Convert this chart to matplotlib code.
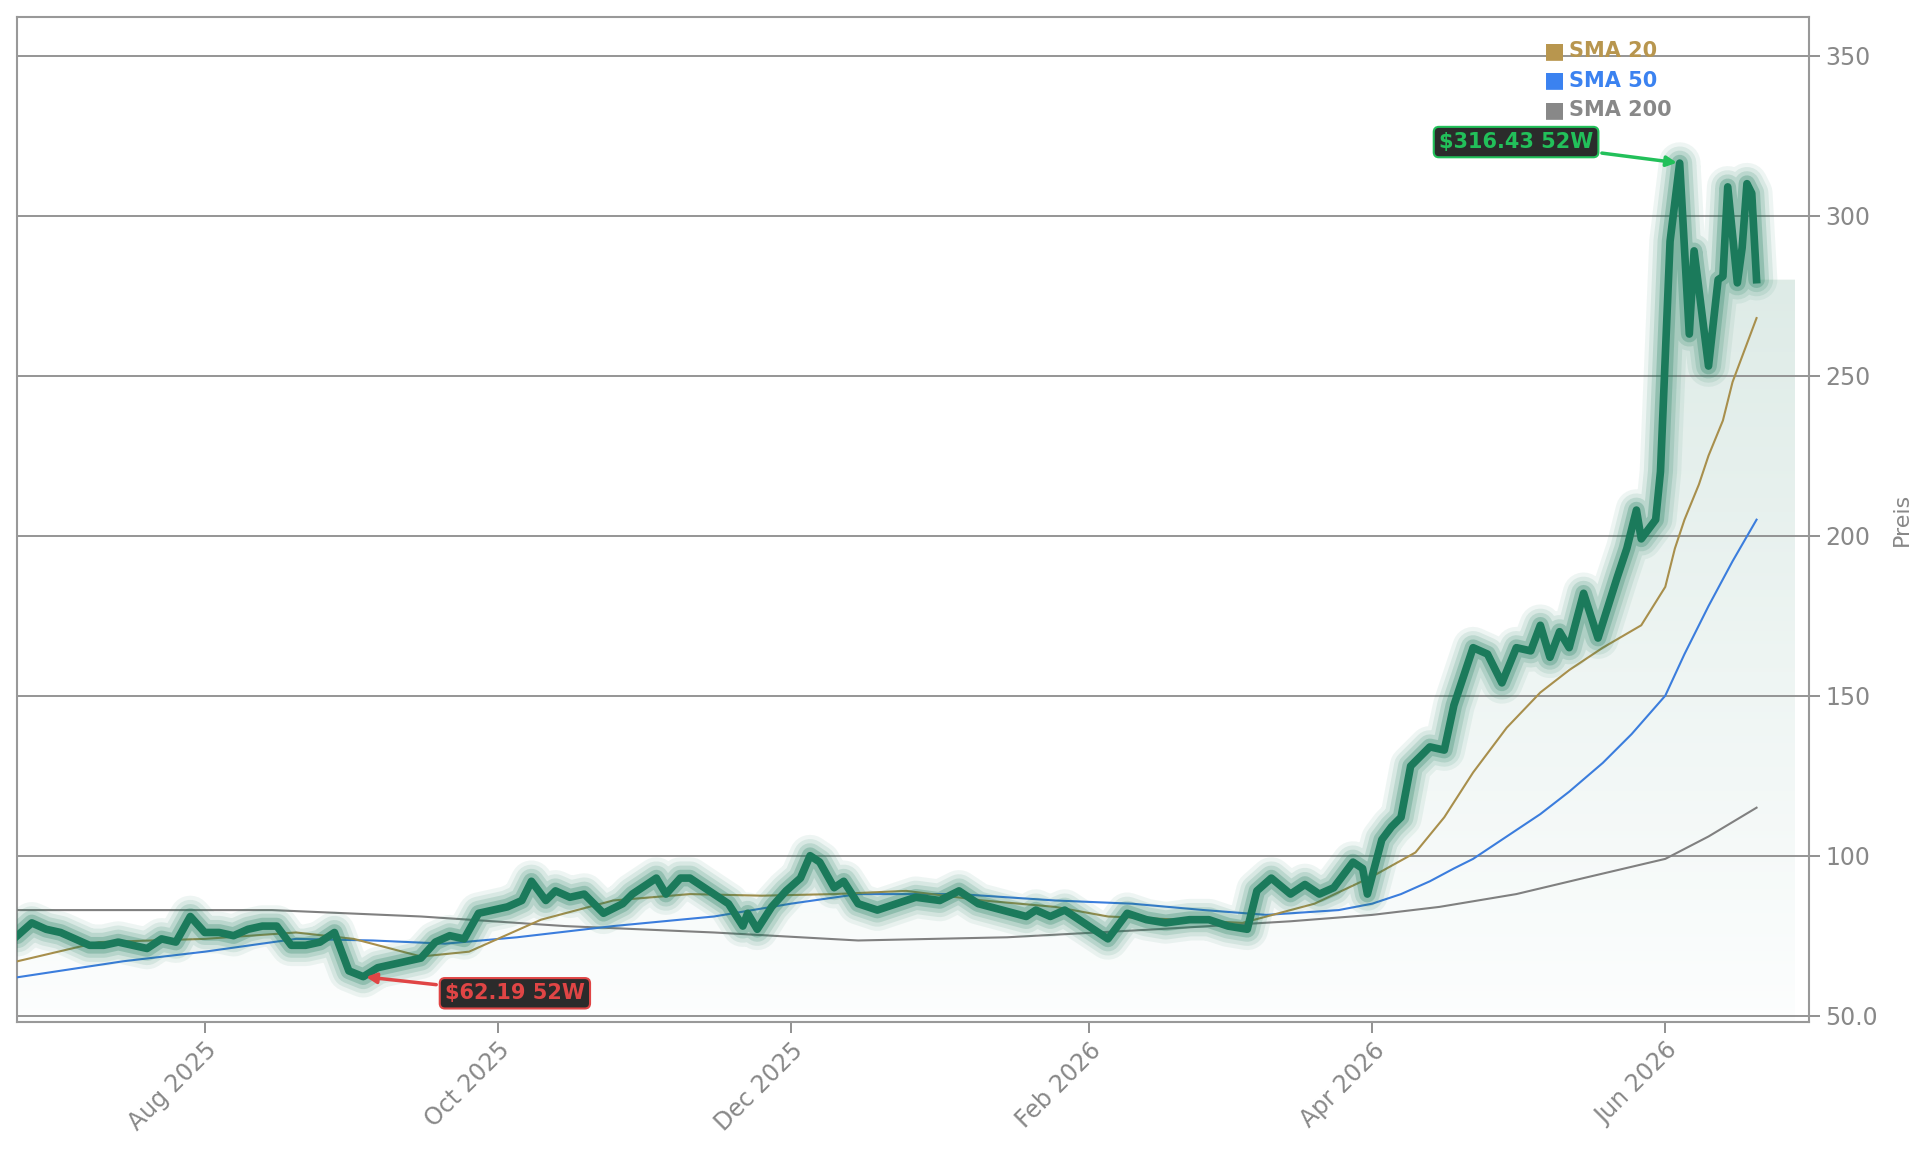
import matplotlib
matplotlib.use("Agg")
import matplotlib.pyplot as plt
import matplotlib.dates as mdates
import numpy as np
import pandas as pd
from matplotlib.patches import Polygon
from matplotlib.colors import LinearSegmentedColormap

price_dates = ["2025-06-23","2025-06-26","2025-06-29","2025-07-02","2025-07-05","2025-07-08","2025-07-11","2025-07-14","2025-07-17","2025-07-20","2025-07-23","2025-07-26","2025-07-29","2025-08-01","2025-08-04","2025-08-07","2025-08-10","2025-08-13","2025-08-16","2025-08-19","2025-08-22","2025-08-25","2025-08-28","2025-08-31","2025-09-03","2025-09-06","2025-09-09","2025-09-12","2025-09-15","2025-09-18","2025-09-21","2025-09-24","2025-09-27","2025-09-30","2025-10-03","2025-10-06","2025-10-08","2025-10-11","2025-10-13","2025-10-16","2025-10-19","2025-10-23","2025-10-27","2025-10-29","2025-10-31","2025-11-03","2025-11-05","2025-11-08","2025-11-10","2025-11-13","2025-11-18","2025-11-21","2025-11-22","2025-11-24","2025-11-27","2025-11-30","2025-12-03","2025-12-05","2025-12-07","2025-12-10","2025-12-12","2025-12-15","2025-12-19","2025-12-23","2025-12-27","2026-01-01","2026-01-05","2026-01-09","2026-01-14","2026-01-19","2026-01-21","2026-01-24","2026-01-27","2026-01-31","2026-02-05","2026-02-09","2026-02-13","2026-02-17","2026-02-22","2026-02-26","2026-03-02","2026-03-06","2026-03-08","2026-03-11","2026-03-15","2026-03-18","2026-03-21","2026-03-24","2026-03-28","2026-03-30","2026-03-31","2026-04-03","2026-04-05","2026-04-07","2026-04-09","2026-04-13","2026-04-16","2026-04-18","2026-04-22","2026-04-25","2026-04-28","2026-05-01","2026-05-04","2026-05-06","2026-05-08","2026-05-10","2026-05-12","2026-05-15","2026-05-18","2026-05-22","2026-05-24","2026-05-26","2026-05-27","2026-05-30","2026-05-31","2026-06-02","2026-06-04","2026-06-06","2026-06-07","2026-06-10","2026-06-12","2026-06-13","2026-06-14","2026-06-16","2026-06-17","2026-06-18","2026-06-19","2026-06-20"]
price = [75,79,77,76,74,72,72,73,72,71,74,73,81,76,76,75,77,78,78,72,72,73,76,64,62.19,65,66,67,68,73,75,74,82,83,84,86,92,86,89,87,88,82,85,88,90,93,88,93,93,90,85,78,82,77,84,89,93,100,98,90,92,85,83,85,87,86,89,85,83,81,83,81,83,79,74,82,80,79,80,80,78,77,89,93,88,91,88,90,98,96,88,105,109,112,128,134,133,147,165,163,154,165,164,172,162,170,165,182,168,187,196,208,199,205,220,292,316.43,263,289,253,280,281,309,279,290,310,307,280]

sma20_dates = ["2025-06-23","2025-07-10","2025-08-01","2025-08-20","2025-09-01","2025-09-15","2025-09-25","2025-10-10","2025-10-25","2025-11-10","2025-11-25","2025-12-10","2025-12-25","2026-01-10","2026-01-25","2026-02-05","2026-02-20","2026-03-05","2026-03-20","2026-04-01","2026-04-10","2026-04-16","2026-04-22","2026-04-29","2026-05-06","2026-05-12","2026-05-19","2026-05-27","2026-06-01","2026-06-03","2026-06-05","2026-06-08","2026-06-10","2026-06-13","2026-06-15","2026-06-18","2026-06-20"]
sma20 = [67,73,74,76,74,68.5,70,80,86,88,87.5,88,89,86,84,81,80,79,85,93.5,101,112,126,140,151,158,165,172,184,196,205,216,225,236,248,260,268]
sma50_dates = ["2025-06-23","2025-07-15","2025-08-01","2025-08-20","2025-09-05","2025-09-20","2025-10-05","2025-10-25","2025-11-15","2025-12-01","2025-12-15","2026-01-05","2026-01-25","2026-02-10","2026-02-25","2026-03-10","2026-03-25","2026-04-01","2026-04-07","2026-04-13","2026-04-18","2026-04-22","2026-04-29","2026-05-06","2026-05-12","2026-05-19","2026-05-25","2026-06-01","2026-06-05","2026-06-10","2026-06-15","2026-06-20"]
sma50 = [62,67,70,74,73.5,72.5,74.5,78,81,85,88,88,86,85,83,81.5,83,85,88,92,96,99,106,113,120,129,138,150,163,178,192,205]
sma200_dates = ["2025-06-23","2025-08-15","2025-09-15","2025-10-15","2025-11-15","2025-12-15","2026-01-15","2026-02-15","2026-03-15","2026-04-01","2026-04-15","2026-05-01","2026-05-15","2026-06-01","2026-06-10","2026-06-20"]
sma200 = [83,83,81,78,76,73.5,74.5,77,79.5,81.5,84,88,93,99,106,115]

x = mdates.date2num(pd.to_datetime(price_dates))
p = np.array(price)

fig = plt.figure(figsize=(19.29, 11.51), dpi=100)
ax = fig.add_axes([0.009, 0.112, 0.929, 0.873])
ax.set_ylim(48, 362)
ax.set_xlim(mdates.date2num(pd.Timestamp("2025-06-23")), mdates.date2num(pd.Timestamp("2026-07-01")))

xe = np.append(x, mdates.date2num(pd.Timestamp("2026-06-28")))
pe = np.append(p, p[-1])
grad = np.linspace(0, 1, 256).reshape(-1, 1)
cmap = LinearSegmentedColormap.from_list("g", [(0.99, 0.995, 0.995, 1), (0.85, 0.91, 0.89, 1)])
im = ax.imshow(grad, extent=[xe[0], xe[-1], 48, 320], origin="lower", aspect="auto", cmap=cmap, zorder=1)
poly = Polygon(np.column_stack([np.r_[xe[0], xe, xe[-1]], np.r_[48, pe, 48]]), closed=True, transform=ax.transData)
im.set_clip_path(poly)

for v in [50, 100, 150, 200, 250, 300, 350]:
    ax.axhline(v, color="#8c8c8c", lw=1.3, zorder=2)

ax.plot(mdates.date2num(pd.to_datetime(sma200_dates)), sma200, color="#808080", lw=1.5, zorder=3)
ax.plot(mdates.date2num(pd.to_datetime(sma50_dates)), sma50, color="#3b7ddd", lw=1.5, zorder=3)
ax.plot(mdates.date2num(pd.to_datetime(sma20_dates)), sma20, color="#a88f4c", lw=1.5, zorder=3)

for w, a in [(30, 0.07), (24, 0.1), (18, 0.15), (12, 0.25)]:
    ax.plot(x, p, color="#1a7a5a", lw=w, alpha=a, solid_capstyle="round", solid_joinstyle="round", zorder=4)
ax.plot(x, p, color="#1b7a5b", lw=5.5, solid_joinstyle="round", zorder=5)

ilow = int(np.argmin(p)); ihigh = int(np.argmax(p))
ax.annotate(f"${p[ilow]:.2f} 52W", xy=(x[ilow], p[ilow]), xytext=(mdates.date2num(pd.Timestamp("2025-09-20")), 57),
            color="#e04545", fontsize=15, fontweight="bold", ha="left", va="center",
            bbox=dict(boxstyle="round,pad=0.25", fc="#2b2b2b", ec="#e04545", lw=1.5),
            arrowprops=dict(arrowstyle="-|>", color="#e04545", lw=2.5, mutation_scale=15), zorder=8)
ax.annotate(f"${p[ihigh]:.2f} 52W", xy=(x[ihigh], p[ihigh]), xytext=(mdates.date2num(pd.Timestamp("2026-05-17")), 323),
            color="#22c05a", fontsize=15, fontweight="bold", ha="right", va="center",
            bbox=dict(boxstyle="round,pad=0.25", fc="#2b2b2b", ec="#22c05a", lw=1.5),
            arrowprops=dict(arrowstyle="-|>", color="#22c05a", lw=2.5, mutation_scale=15), zorder=8)

for i, (lab, c) in enumerate([("SMA 20", "#b8964e"), ("SMA 50", "#3b82f0"), ("SMA 200", "#888888")]):
    yy = 0.966 - i * 0.029
    ax.text(0.852, yy, "■", color=c, fontsize=16, transform=ax.transAxes, va="center", zorder=9)
    ax.text(0.866, yy, lab, color=c, fontsize=15, fontweight="bold", transform=ax.transAxes, va="center", zorder=9)

ax.yaxis.tick_right()
ax.yaxis.set_label_position("right")
ax.set_yticks([50, 100, 150, 200, 250, 300, 350])
ax.set_yticklabels(["50.0", "100", "150", "200", "250", "300", "350"])
ax.set_ylabel("Preis", color="#888888", fontsize=16, labelpad=10)
ticks = pd.to_datetime(["2025-08-01", "2025-10-01", "2025-12-01", "2026-02-01", "2026-04-01", "2026-06-01"])
ax.set_xticks(mdates.date2num(ticks))
ax.set_xticklabels([t.strftime("%b %Y") for t in ticks], rotation=45, ha="right", rotation_mode="anchor")
ax.tick_params(colors="#888888", labelsize=17, length=8, width=1.3)
for s in ax.spines.values():
    s.set_color("#999999"); s.set_linewidth(1.5)

fig.savefig("out.png", dpi=100)
